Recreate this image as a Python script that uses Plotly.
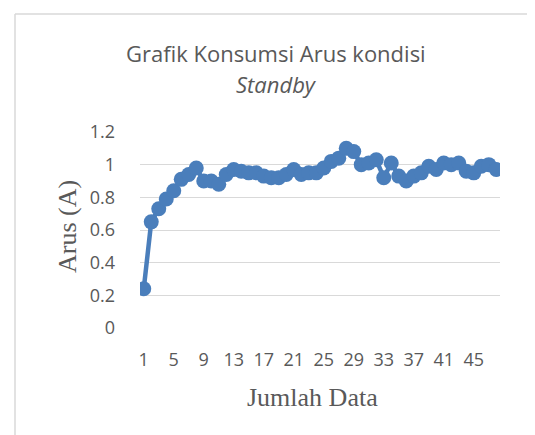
import plotly.graph_objects as go

x_values = list(range(1, 49))
arus = [0.24, 0.65, 0.73, 0.79, 0.84, 0.91, 0.94, 0.98, 0.90, 0.90,
        0.88, 0.94, 0.97, 0.96, 0.95, 0.95, 0.93, 0.92, 0.92, 0.94,
        0.97, 0.94, 0.95, 0.95, 0.98, 1.02, 1.04, 1.10, 1.08, 1.00,
        1.01, 1.03, 0.92, 1.01, 0.93, 0.90, 0.93, 0.95, 0.99, 0.97,
        1.01, 1.00, 1.01, 0.96, 0.95, 0.99, 1.00, 0.97]
x_tickvals = list(range(1, 49, 4))
y_tickvals = [0, 0.2, 0.4, 0.6, 0.8, 1.0, 1.2]
y_ticktext = ["0", "0.2", "0.4", "0.6", "0.8", "1", "1.2"]

blue = "#4A7EBB"
grey_text = "#595959"
sans = "Open Sans, Liberation Sans, sans-serif"
serif = "Liberation Serif, Times New Roman, serif"

# page body adds an 8px offset; figure sized to fit the window
OFF = 8
W, H = 527, 427
L, T = 132, 124
pw, ph = 360, 196
R = W - L - pw
B = H - T - ph

def px(xs):
    return (xs - OFF - L) / pw

def py(ys):
    return (H - B - (ys - OFF)) / ph

fig = go.Figure()
fig.add_trace(go.Scatter(
    x=x_values, y=arus, mode="lines+markers",
    line=dict(color=blue, width=4.5),
    marker=dict(color=blue, size=15),
    showlegend=False,
))

def ann(text, xs, ys, size, family, angle=0):
    return dict(text=text, x=px(xs), y=py(ys), xref="paper", yref="paper",
                xanchor="center", yanchor="middle", showarrow=False,
                textangle=angle, font=dict(family=family, size=size, color=grey_text))

fig.update_layout(
    width=W, height=H,
    margin=dict(l=L, r=R, t=T, b=B),
    paper_bgcolor="white", plot_bgcolor="white",
    xaxis=dict(range=[0.5, 48.5], tickvals=x_tickvals, showgrid=False,
               zeroline=False, showline=False, ticks="",
               tickfont=dict(family=sans, size=18, color=grey_text),
               ticklabelstandoff=19),
    yaxis=dict(range=[0, 1.2], tickvals=y_tickvals, ticktext=y_ticktext,
               showgrid=True, gridcolor="#D9D9D9", gridwidth=1.3,
               zeroline=False, showline=False, ticks="",
               tickfont=dict(family=sans, size=18, color=grey_text),
               ticklabelstandoff=24),
    annotations=[
        ann("Grafik Konsumsi Arus kondisi", 276, 53, 22, sans),
        ann("<i>Standby</i>", 276, 84, 22, sans),
        ann("Jumlah Data", 312, 397, 26, serif),
        ann("Arus (A)", 67, 227, 26, serif, -90),
    ],
    shapes=[
        dict(type="line", xref="paper", yref="paper",
             x0=px(15), x1=px(545), y0=py(14), y1=py(14),
             line=dict(color="#D9D9D9", width=1.5)),
        dict(type="line", xref="paper", yref="paper",
             x0=px(15), x1=px(15), y0=py(14), y1=py(445),
             line=dict(color="#D9D9D9", width=1.5)),
    ],
)

fig.write_html("out.html")
